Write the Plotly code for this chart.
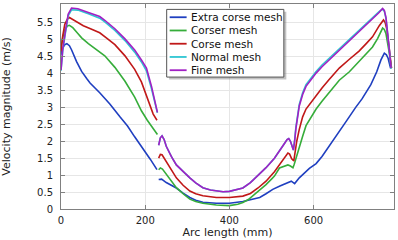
import plotly.graph_objects as go

# ---------------- data ----------------
series_names = ["Extra corse mesh", "Corser mesh", "Corse mesh", "Normal mesh", "Fine mesh"]
series_colors = ["#1f3fc0", "#36ad3a", "#c01818", "#2ec6d2", "#a120c4"]

x_ticks = [0, 200, 400, 600]
y_ticks = [0, 0.5, 1, 1.5, 2, 2.5, 3, 3.5, 4, 4.5, 5, 5.5]
y_ticktext = ["0", "0.5", "1", "1.5", "2", "2.5", "3", "3.5", "4", "4.5", "5", "5.5"]

# Extra corse mesh (blue)
extra_x = [0, 4, 9, 14, 20, 25, 37, 49, 61, 69, 92, 116, 140, 158, 175, 195, 212, 228,
           None,
           232, 239, 250, 262, 274, 290, 306, 320, 337, 369, 400, 432, 450, 472, 487, 503, 520, 535, 547, 555,
           566, 590, 606, 620, 637, 660, 677, 700, 715, 736, 750, 760, 768, 773, 777, 783]
extra_y = [4.55, 4.75, 4.85, 4.88, 4.82, 4.70, 4.35, 4.06, 3.85, 3.72, 3.43, 3.10, 2.72, 2.45, 2.13, 1.79, 1.47, 1.16,
           None,
           0.87, 0.88, 0.78, 0.70, 0.62, 0.47, 0.34, 0.26, 0.20, 0.17, 0.17, 0.22, 0.27, 0.34, 0.45, 0.58, 0.68, 0.77, 0.82, 0.75,
           0.92, 1.20, 1.34, 1.55, 1.85, 2.25, 2.58, 3.00, 3.25, 3.67, 4.05, 4.40, 4.60, 4.55, 4.45, 4.15]

# Corser mesh (green)
corser_x = [0, 4, 9, 15, 20, 28, 40, 49, 65, 85, 104, 128, 152, 175, 191, 205, 219, 229,
            None,
            232, 236, 241, 250, 262, 274, 290, 306, 320, 337, 369, 400, 420, 432, 445, 460, 475, 487, 500, 507, 519, 530, 539, 545, 551,
            554, 558, 566, 574, 582, 594, 606, 620, 637, 661, 685, 708, 725, 740, 752, 764, 768, 772, 780, 785]
corser_y = [4.75, 5.05, 5.28, 5.40, 5.42, 5.35, 5.18, 5.05, 4.88, 4.70, 4.52, 4.18, 3.77, 3.30, 2.90, 2.62, 2.37, 2.20,
            None,
            1.16, 1.21, 1.18, 1.02, 0.82, 0.63, 0.45, 0.29, 0.22, 0.17, 0.12, 0.10, 0.14, 0.19, 0.28, 0.43, 0.58, 0.72, 0.88, 0.97, 1.21, 1.27, 1.30, 1.27, 1.22,
            1.32, 1.50, 1.79, 2.15, 2.46, 2.72, 2.95, 3.18, 3.43, 3.80, 4.05, 4.35, 4.57, 4.78, 5.03, 5.34, 5.30, 5.17, 4.59, 4.16]

# Corse mesh (red)
corse_x = [0, 4, 9, 15, 20, 27, 40, 53, 70, 92, 110, 128, 152, 175, 191, 207, 219, 228,
           None,
           232, 236, 240, 245, 250, 262, 274, 290, 306, 320, 337, 369, 400, 432, 450, 468, 487, 507, 519, 530, 539, 543, 548, 553,
           556, 560, 566, 574, 582, 594, 606, 620, 637, 661, 685, 708, 725, 740, 756, 766, 770, 774, 780, 785]
corse_y = [4.65, 5.10, 5.45, 5.60, 5.65, 5.60, 5.50, 5.41, 5.32, 5.20, 5.03, 4.85, 4.52, 4.12, 3.75, 3.20, 2.80, 2.62,
           None,
           1.50, 1.61, 1.60, 1.50, 1.40, 1.15, 0.92, 0.70, 0.53, 0.45, 0.39, 0.34, 0.34, 0.38, 0.46, 0.62, 0.82, 1.10, 1.30, 1.50, 1.65, 1.62, 1.48, 1.42,
           1.70, 2.00, 2.35, 2.72, 2.95, 3.15, 3.33, 3.57, 3.82, 4.16, 4.42, 4.66, 4.88, 5.08, 5.41, 5.58, 5.50, 5.30, 4.70, 4.16]

# Normal mesh (cyan)
normal_x = [0, 4, 9.5, 17, 25, 40, 65, 92, 104, 128, 152, 175, 191, 203, 215, 227, 229,
            None,
            232, 236, 240, 245, 250, 262, 274, 290, 306, 320, 337, 355, 369, 385, 400, 416, 432, 450, 468, 487, 507, 520, 530, 537, 541, 545, 549, 552,
            555, 558, 566, 574, 582, 594, 606, 620, 637, 650, 665, 685, 708, 725, 740, 755, 763, 768, 772, 776, 780, 784]
normal_y = [4.08, 4.65, 5.12, 5.70, 5.88, 5.87, 5.76, 5.63, 5.52, 5.27, 4.97, 4.63, 4.34, 4.08, 3.55, 2.92, 2.84,
            None,
            1.88, 2.10, 2.16, 2.05, 1.85, 1.55, 1.30, 1.10, 0.92, 0.77, 0.63, 0.56, 0.53, 0.51, 0.52, 0.56, 0.62, 0.78, 1.00, 1.22, 1.50, 1.72, 1.92, 2.05, 2.08, 2.00, 1.82, 1.74,
            2.04, 2.42, 3.09, 3.43, 3.67, 3.88, 4.06, 4.25, 4.45, 4.61, 4.79, 5.01, 5.27, 5.47, 5.65, 5.82, 5.90, 5.84, 5.62, 5.22, 4.66, 4.14]

# Fine mesh (purple)
fine_x = [0, 4, 9.5, 17, 25, 40, 65, 92, 104, 128, 152, 175, 191, 203, 215, 227, 229,
          None,
          232, 236, 240, 245, 250, 262, 274, 290, 306, 320, 337, 355, 369, 385, 400, 416, 432, 450, 468, 487, 507, 520, 530, 537, 541, 545, 549, 552,
          555, 558, 566, 574, 582, 594, 606, 620, 637, 650, 665, 685, 708, 725, 740, 755, 764, 768, 772, 776, 780, 784]
fine_y = [4.10, 4.70, 5.17, 5.75, 5.93, 5.91, 5.80, 5.68, 5.57, 5.32, 5.02, 4.69, 4.40, 4.16, 3.62, 2.95, 2.85,
          None,
          1.88, 2.10, 2.16, 2.05, 1.85, 1.55, 1.30, 1.10, 0.92, 0.77, 0.63, 0.56, 0.53, 0.51, 0.52, 0.56, 0.62, 0.78, 1.00, 1.22, 1.50, 1.72, 1.92, 2.05, 2.08, 2.00, 1.82, 1.74,
          2.00, 2.37, 3.04, 3.38, 3.62, 3.83, 4.01, 4.20, 4.40, 4.56, 4.74, 4.96, 5.22, 5.42, 5.60, 5.79, 5.92, 5.86, 5.65, 5.25, 4.69, 4.16]

series_x = [extra_x, corser_x, corse_x, normal_x, fine_x]
series_y = [extra_y, corser_y, corse_y, normal_y, fine_y]

# ---------------- figure ----------------
W, H = 398, 240
ML, MR, MT, MB = 61, 3, 3, 28
PW, PH = W - ML - MR, H - MT - MB
FONT = "DejaVu Sans"

fig = go.Figure()
for name, color, xs, ys in zip(series_names, series_colors, series_x, series_y):
    fig.add_trace(go.Scatter(x=xs, y=ys, mode="lines", name=name,
                             line=dict(color=color, width=1.6),
                             connectgaps=False, showlegend=False))

def px_x(px):
    return (px - ML) / PW

def px_y(py):
    return (H - MB - py) / PH

# legend drawn as a box in paper space (COMSOL style, compact rows)
shapes = []
annotations = []
bx0, by0, bx1, by1 = 167, 8.5, 284.5, 77.5
shapes.append(dict(type="rect", xref="paper", yref="paper", layer="above",
                   x0=px_x(bx0 + 2.5), x1=px_x(bx1 + 2.5), y0=px_y(by1 + 2.5), y1=px_y(by0 + 2.5),
                   fillcolor="rgba(120,120,120,0.45)", line=dict(width=0)))
shapes.append(dict(type="rect", xref="paper", yref="paper", layer="above",
                   x0=px_x(bx0), x1=px_x(bx1), y0=px_y(by1), y1=px_y(by0),
                   fillcolor="white", line=dict(color="#555555", width=1)))
row0, rowstep = 16.5, 13.5
for i, (name, color) in enumerate(zip(series_names, series_colors)):
    ry = row0 + i * rowstep
    shapes.append(dict(type="line", xref="paper", yref="paper", layer="above",
                       x0=px_x(170), x1=px_x(187), y0=px_y(ry), y1=px_y(ry),
                       line=dict(color=color, width=1.8)))
    annotations.append(dict(xref="paper", yref="paper", x=px_x(189.5), y=px_y(ry),
                            xanchor="left", yanchor="middle", showarrow=False,
                            text=name, font=dict(family=FONT, size=10.5, color="#111111")))

fig.update_layout(
    width=W, height=H,
    margin=dict(l=ML, r=MR, t=MT, b=MB, pad=0),
    paper_bgcolor="white", plot_bgcolor="white",
    font=dict(family=FONT, size=10, color="#222222"),
    showlegend=False,
    shapes=shapes, annotations=annotations,
)
axis_common = dict(showline=True, linecolor="#808080", linewidth=1, mirror="ticks",
                   ticks="inside", ticklen=4, tickcolor="#808080",
                   showgrid=True, gridcolor="#e6e6e6", gridwidth=1, zeroline=False,
                   tickfont=dict(family=FONT, size=10, color="#222222"))
fig.update_xaxes(range=[0, 791], tickvals=x_ticks, ticklabelstandoff=2, **axis_common,
                 title=dict(text="Arc length (mm)", font=dict(family=FONT, size=11, color="#222222"), standoff=3))
fig.update_yaxes(range=[0, 6.05], tickvals=y_ticks, ticktext=y_ticktext, ticklabelstandoff=5, **axis_common,
                 title=dict(text="Velocity magnitude (m/s)", font=dict(family=FONT, size=11, color="#222222"), standoff=24))

fig.write_html("out.html")
